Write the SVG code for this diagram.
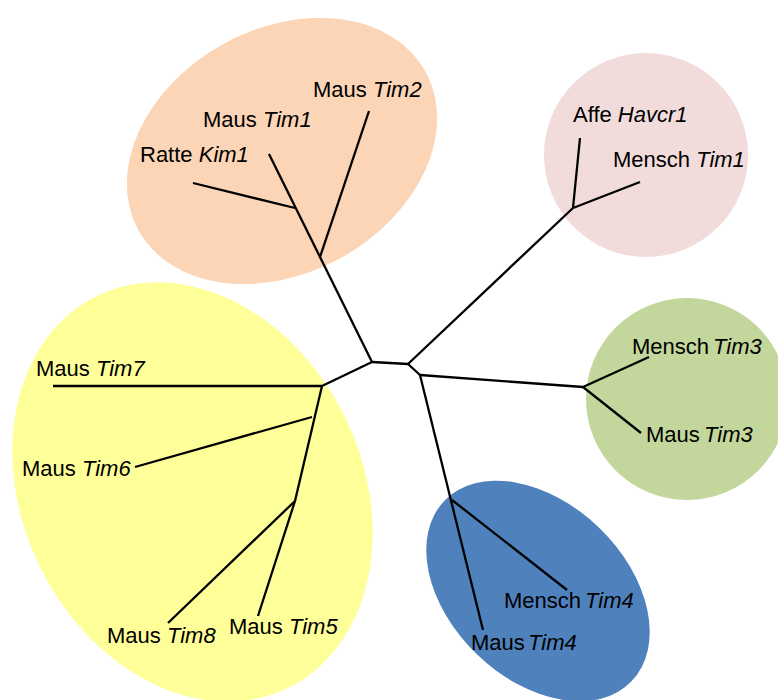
<svg xmlns="http://www.w3.org/2000/svg" width="778" height="700" viewBox="0 0 778 700">
<style>
.lbl{font-family:"Liberation Sans",Arial,sans-serif;font-size:22px;fill:#000}
.it{font-style:italic}
.br{stroke:#000;stroke-width:2.3;fill:none;stroke-linecap:butt}
</style>
<rect width="778" height="700" fill="#fff"/>
<g id="cluster-tim1-tim2">
<ellipse cx="282" cy="151" rx="164" ry="122" transform="rotate(-29 282 151)" fill="#FBD5B5"/>
</g>
<g id="cluster-havcr1">
<circle cx="646" cy="155" r="102" fill="#F2DCDB"/>
</g>
<g id="cluster-tim3">
<circle cx="687" cy="399" r="101" fill="#C3D69B"/>
</g>
<g id="cluster-tim5-8">
<ellipse cx="192.5" cy="492" rx="170" ry="218" transform="rotate(-26 192.5 492)" fill="#FFFF99"/>
</g>
<g id="cluster-tim4">
<ellipse cx="538" cy="591" rx="130" ry="88" transform="rotate(44 538 591)" fill="#4F81BD"/>
</g>
<g id="connectors">
<line class="br" x1="372" y1="362" x2="408" y2="364"/>
<line class="br" x1="408" y1="364" x2="420" y2="375"/>
<line class="br" x1="372" y1="362" x2="269" y2="154"/>
<line class="br" x1="320" y1="257" x2="369" y2="111"/>
<line class="br" x1="295" y1="208" x2="193" y2="183"/>
<line class="br" x1="372" y1="362" x2="322" y2="386"/>
<line class="br" x1="322" y1="386" x2="53" y2="386"/>
<line class="br" x1="322" y1="386" x2="295" y2="501"/>
<line class="br" x1="312" y1="417" x2="135" y2="467"/>
<line class="br" x1="295" y1="501" x2="168" y2="623"/>
<line class="br" x1="295" y1="501" x2="258" y2="616"/>
<line class="br" x1="408" y1="364" x2="573" y2="208"/>
<line class="br" x1="573" y1="208" x2="580" y2="138"/>
<line class="br" x1="573" y1="208" x2="640" y2="182"/>
<line class="br" x1="420" y1="375" x2="583" y2="387"/>
<line class="br" x1="583" y1="387" x2="649" y2="357"/>
<line class="br" x1="583" y1="387" x2="641" y2="433"/>
<line class="br" x1="420" y1="375" x2="483" y2="630"/>
<line class="br" x1="452" y1="500" x2="567" y2="590"/>
</g>
<g id="leaf-maus-tim2"><text class="lbl" x="313" y="97">Maus <tspan class="it">Tim2</tspan></text></g>
<g id="leaf-maus-tim1"><text class="lbl" x="203" y="127">Maus <tspan class="it">Tim1</tspan></text></g>
<g id="leaf-ratte-kim1"><text class="lbl" x="140" y="162">Ratte <tspan class="it">Kim1</tspan></text></g>
<g id="leaf-affe-havcr1"><text class="lbl" x="573" y="122">Affe <tspan class="it">Havcr1</tspan></text></g>
<g id="leaf-mensch-tim1"><text class="lbl" x="613" y="167">Mensch <tspan class="it">Tim1</tspan></text></g>
<g id="leaf-mensch-tim3"><text class="lbl" x="632" y="354">Mensch <tspan class="it" x="713">Tim3</tspan></text></g>
<g id="leaf-maus-tim3"><text class="lbl" x="646" y="442">Maus <tspan class="it" x="704">Tim3</tspan></text></g>
<g id="leaf-mensch-tim4"><text class="lbl" x="504" y="608">Mensch <tspan class="it" x="585">Tim4</tspan></text></g>
<g id="leaf-maus-tim4"><text class="lbl" x="471" y="650">Maus <tspan class="it" x="528">Tim4</tspan></text></g>
<g id="leaf-maus-tim7"><text class="lbl" x="36" y="376">Maus <tspan class="it">Tim7</tspan></text></g>
<g id="leaf-maus-tim6"><text class="lbl" x="22" y="476">Maus <tspan class="it">Tim6</tspan></text></g>
<g id="leaf-maus-tim8"><text class="lbl" x="107" y="643">Maus <tspan class="it">Tim8</tspan></text></g>
<g id="leaf-maus-tim5"><text class="lbl" x="229" y="634">Maus <tspan class="it">Tim5</tspan></text></g>
</svg>
